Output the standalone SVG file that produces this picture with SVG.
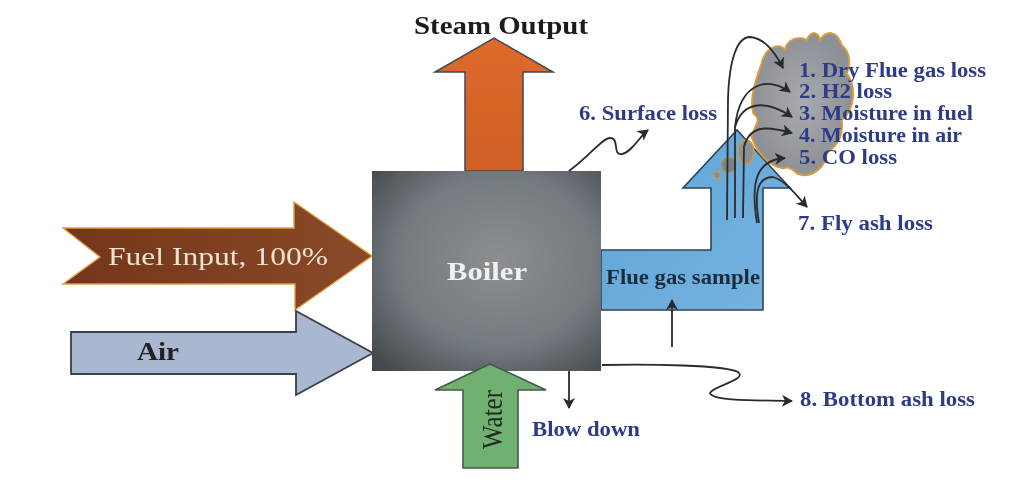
<svg xmlns="http://www.w3.org/2000/svg" width="1024" height="482" viewBox="0 0 1024 482">
<style>
text{font-family:"Liberation Serif","Times New Roman",serif}
.l{fill:#2f3a86;font-size:20px;font-weight:bold}
.a{fill:none;stroke:#2b2b2b;stroke-width:1.8;marker-end:url(#ah)}
</style>
<defs>
<marker id="ah" markerWidth="14" markerHeight="14" refX="10" refY="6" orient="auto" markerUnits="userSpaceOnUse"><path d="M0 0L11 6L0 12L3 6Z" fill="#2b2b2b"/></marker>
<radialGradient id="b" cx=".55" cy=".45" r=".72"><stop offset="0" stop-color="#8b8f92"/><stop offset=".6" stop-color="#747a7f"/><stop offset="1" stop-color="#454a4e"/></radialGradient>
<linearGradient id="o" x1="0" y1="0" x2="0" y2="1"><stop offset="0" stop-color="#de6a2c"/><stop offset="1" stop-color="#cf5f24"/></linearGradient>
<linearGradient id="f" x1="0" y1="0" x2="1" y2="0"><stop offset="0" stop-color="#74351a"/><stop offset="1" stop-color="#8a4a28"/></linearGradient>
<linearGradient id="u" x1="0" y1="0" x2="1" y2="1"><stop offset="0" stop-color="#5ea5d8"/><stop offset="1" stop-color="#76b3df"/></linearGradient>
<radialGradient id="s"><stop offset="0" stop-color="#a8abb0"/><stop offset="1" stop-color="#8d9095"/></radialGradient>
<filter id="blur"><feGaussianBlur stdDeviation=".7"/></filter>
</defs>
<g filter="url(#blur)">
<g id="steam"><path d="M465 171V72H435L494 38L553 72H523V171Z" fill="url(#o)" stroke="#3f4a55" stroke-width="1.5"/><text x="414" y="34" textLength="174" lengthAdjust="spacingAndGlyphs" font-size="25" font-weight="bold" fill="#1c1c1c">Steam Output</text></g>
<g id="flue"><path d="M601 250H711V188H683L737 130L790 188H763V310H601Z" fill="url(#u)" stroke="#2e4458" stroke-width="1.6"/><text x="606" y="284" textLength="154" lengthAdjust="spacingAndGlyphs" font-size="20" font-weight="bold" fill="#1d2b3a">Flue gas sample</text></g>
<g id="cloud"><path transform="translate(670 20) scale(.3333)" d="M275 130C285 85 325 65 345 90C350 60 385 45 410 60C425 30 445 35 450 60C470 30 500 30 515 75C545 100 540 140 530 160C560 200 555 270 515 300C520 340 510 370 470 400C470 440 420 480 380 460C360 440 350 440 340 445C300 440 260 400 245 350C250 320 280 300 250 280C240 240 250 200 275 130Z" fill="url(#s)" stroke="#d89b3e" stroke-width="6"/></g>
<g id="puffs"><ellipse cx="746" cy="152" rx="8" ry="12" fill="#8d9095" stroke="#c99a4a" stroke-width="1.6"/><circle cx="729" cy="165" r="7" fill="#7d8288" stroke="#a88a4a" stroke-width="1.6"/><circle cx="717" cy="175" r="3.5" fill="#7b90a5" stroke="#c99a4a" stroke-width="1.6"/></g>
<g id="fuel"><path d="M63 228H294V202L372 256L295 310V284H63L100 257Z" fill="url(#f)" stroke="#e0a040" stroke-width="1.4"/><text x="108" y="265" textLength="220" lengthAdjust="spacingAndGlyphs" font-size="25" fill="#ece3d4">Fuel Input, 100%</text></g>
<g id="air"><path d="M71 332H296V311L373 353L296 395V374H71Z" fill="#a9b7d0" stroke="#3a3f48" stroke-width="1.8"/><text x="137" y="360" textLength="42" lengthAdjust="spacingAndGlyphs" font-size="25" font-weight="bold" fill="#222">Air</text></g>
<g id="boiler"><rect x="372" y="171" width="229" height="200" fill="url(#b)"/><text x="447" y="280" textLength="80" lengthAdjust="spacingAndGlyphs" font-size="26" font-weight="bold" fill="#f1f1f1">Boiler</text></g>
<g id="water"><path d="M463 468V390H435L490 364L546 390H518V468Z" fill="#70b071" stroke="#445a48" stroke-width="1.6"/><text transform="translate(502 449) rotate(-90)" textLength="59" lengthAdjust="spacingAndGlyphs" font-size="29" fill="#1e2a20">Water</text></g>
<g id="connectors">
<path class="a" d="M569 171C590 156 602 138 610 138C620 138 612 156 622 154C632 152 640 136 648 130"/>
<path class="a" d="M672 347V300"/>
<path class="a" d="M569 371V408"/>
<path class="a" d="M602 365C650 364 725 365 738 372C748 380 712 386 710 393C712 401 750 400 792 401"/>
<path class="a" d="M727 220L728 100C729 60 737 37 750 37C765 38 775 52 783 68"/>
<path class="a" d="M735 218V127C740 80 770 77 790 92"/>
<path class="a" d="M735 127C743 100 767 100 792 117"/>
<path class="a" d="M743 218L744 147C750 123 770 127 792 133"/>
<path class="a" d="M757 223C750 180 757 160 785 158"/>
<path class="a" d="M759 223C753 187 760 177 773 177C785 180 797 196 807 207"/>
</g>
<g id="labels">
<text class="l" x="579" y="120" textLength="138" lengthAdjust="spacingAndGlyphs">6. Surface loss</text>
<text class="l" x="799" y="77" textLength="187" lengthAdjust="spacingAndGlyphs">1. Dry Flue gas loss</text>
<text class="l" x="799" y="98" textLength="93" lengthAdjust="spacingAndGlyphs">2. H2 loss</text>
<text class="l" x="799" y="120" textLength="174" lengthAdjust="spacingAndGlyphs">3. Moisture in fuel</text>
<text class="l" x="799" y="142" textLength="163" lengthAdjust="spacingAndGlyphs">4. Moisture in air</text>
<text class="l" x="799" y="164" textLength="98" lengthAdjust="spacingAndGlyphs">5. CO loss</text>
<text class="l" x="798" y="230" textLength="135" lengthAdjust="spacingAndGlyphs">7. Fly ash loss</text>
<text class="l" x="800" y="406" textLength="175" lengthAdjust="spacingAndGlyphs">8. Bottom ash loss</text>
<text class="l" x="532" y="436" textLength="108" lengthAdjust="spacingAndGlyphs">Blow down</text>
</g>
</g>
</svg>
